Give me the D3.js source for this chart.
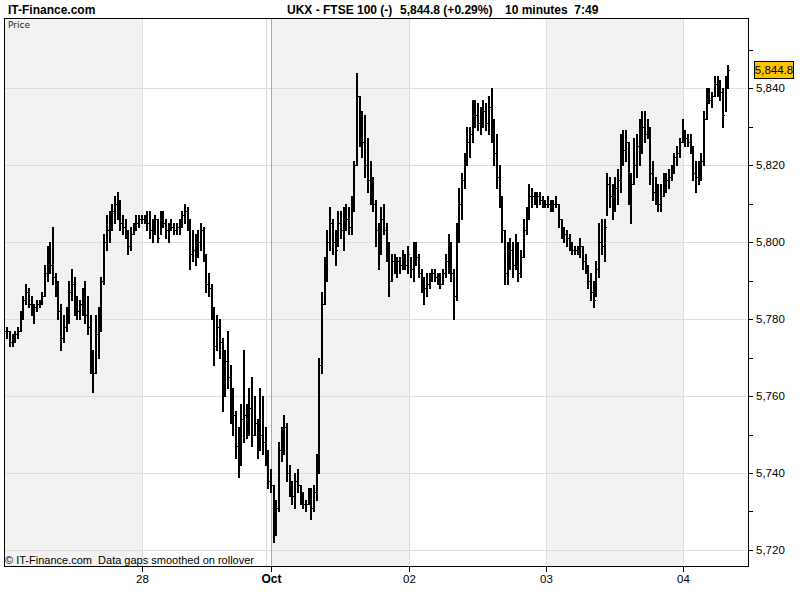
<!DOCTYPE html>
<html><head><meta charset="utf-8">
<script src="https://cdn.jsdelivr.net/npm/d3@7"></script>
<style>html,body{margin:0;padding:0;background:#fff;}svg{display:block;}</style>
</head><body>
<svg id="c" width="800" height="600"></svg>
<script>
// ---- DATA (10-minute bars, FTSE 100, 27 Sep - 04 Oct) ----
const dayLabels = ["28", "Oct", "02", "03", "04"];
const dayBold = [false, true, false, false, false];
const dayStarts = [51, 99, 150, 201, 252];          // bar index where each labelled day starts
const periodStarts = [0, 51, 99, 150, 201, 252];    // all day periods incl. first (27th)
const periodShaded = [true, false, true, false, true, false];
const yTickValues = [5720, 5740, 5760, 5780, 5800, 5820, 5840];
const yMinorValues = [5720, 5730, 5740, 5750, 5760, 5770, 5780, 5790, 5800, 5810, 5820, 5830, 5840, 5850];
const lastPrice = 5844.8;

const lows = [
 5775,5773,5773,5774,5775,5777,5780,5784,5783,5781,5779,5782,5783,5784,5786,5790,5792,5789,5786,5780,
 5772,5774,5777,5779,5785,5781,5780,5780,5781,5779,5776,5766,5761,5766,5770,5777,5789,5798,5800,5803,
 5805,5806,5803,5802,5801,5797,5798,5802,5803,5804,5805,
 5805,5803,5801,5800,5802,5800,5802,5804,5801,5800,5803,5802,5802,5802,5804,5805,5803,5793,5795,5794,
 5796,5798,5795,5787,5786,5780,5768,5772,5770,5756,5760,5762,5753,5750,5744,5739,5742,5748,5749,5750,
 5747,5750,5744,5746,5745,5742,5736,5735,
 5722,5724,5730,5743,5745,5738,5734,5732,5731,5735,5732,5731,5730,5732,5728,5730,5733,5740,5766,5784,
 5790,5798,5797,5794,5799,5801,5798,5803,5802,5802,5808,5820,5825,5822,5817,5813,5810,5808,5799,5793,
 5797,5802,5795,5786,5790,5792,5791,5792,5793,5793,5792,
 5791,5790,5794,5791,5787,5784,5786,5788,5790,5790,5789,5788,5789,5791,5792,5790,5780,5785,5800,5806,
 5814,5820,5822,5826,5830,5829,5828,5830,5829,5828,5826,5820,5814,5809,5800,5789,5789,5793,5791,5793,
 5790,5791,5796,5802,5806,5809,5810,5809,5810,5809,5809,
 5809,5808,5808,5809,5804,5801,5800,5799,5798,5797,5797,5797,5796,5793,5792,5788,5785,5783,5786,5791,
 5797,5795,5807,5809,5806,5808,5810,5813,5820,5821,5810,5805,5815,5817,5820,5823,5826,5827,5815,5811,
 5810,5808,5808,5812,5813,5814,5816,5818,5820,5822,5826,
 5825,5825,5823,5816,5813,5815,5816,5820,5832,5836,5835,5838,5838,5837,5830,5834,5840
];
const highs = [
 5778,5777,5776,5777,5778,5782,5786,5789,5788,5786,5784,5785,5785,5787,5794,5799,5800,5804,5792,5790,
 5784,5781,5783,5790,5793,5791,5786,5785,5788,5790,5786,5781,5772,5781,5783,5791,5802,5807,5808,5810,
 5812,5813,5811,5807,5806,5803,5804,5805,5807,5807,5807,
 5807,5808,5808,5806,5807,5806,5808,5808,5806,5805,5806,5805,5805,5806,5808,5810,5809,5806,5803,5802,
 5803,5805,5804,5797,5792,5789,5783,5781,5780,5775,5772,5777,5768,5762,5756,5752,5758,5772,5758,5762,
 5765,5760,5754,5762,5760,5752,5746,5741,
 5737,5733,5748,5752,5755,5753,5742,5738,5740,5741,5737,5735,5733,5736,5736,5737,5745,5770,5787,5796,
 5803,5809,5806,5803,5808,5808,5809,5810,5809,5812,5821,5844,5838,5834,5833,5827,5821,5817,5811,5805,
 5809,5810,5805,5800,5797,5797,5796,5796,5798,5797,5799,
 5796,5800,5800,5797,5793,5791,5792,5792,5793,5793,5792,5792,5793,5797,5802,5800,5793,5805,5814,5818,
 5823,5830,5830,5837,5837,5836,5835,5837,5836,5838,5840,5832,5828,5820,5812,5803,5800,5801,5800,5802,
 5800,5798,5806,5809,5815,5814,5813,5813,5813,5812,5811,
 5812,5811,5811,5812,5810,5806,5804,5803,5802,5800,5799,5799,5801,5799,5797,5794,5792,5790,5795,5805,
 5806,5806,5818,5817,5815,5817,5819,5828,5829,5829,5826,5818,5827,5828,5832,5834,5834,5832,5830,5821,
 5817,5815,5815,5818,5818,5819,5820,5823,5825,5827,5832,
 5829,5828,5828,5825,5821,5821,5823,5834,5840,5840,5839,5843,5843,5842,5840,5843,5846
];
const closes = [
 5777,5774,5775,5776,5777,5781,5785,5787,5784,5782,5783,5784,5784,5786,5792,5796,5794,5791,5788,5782,
 5775,5778,5780,5787,5789,5783,5782,5784,5786,5781,5778,5768,5766,5776,5778,5790,5800,5803,5806,5808,
 5810,5808,5805,5804,5803,5799,5802,5803,5805,5806,5806,
 5806,5805,5803,5804,5806,5801,5807,5805,5803,5804,5804,5803,5804,5805,5807,5808,5804,5797,5798,5796,
 5800,5803,5797,5789,5788,5782,5773,5778,5774,5762,5769,5765,5756,5755,5747,5748,5754,5755,5752,5757,
 5750,5753,5746,5750,5748,5745,5738,5737,
 5726,5731,5746,5748,5752,5740,5736,5734,5738,5737,5733,5732,5732,5735,5731,5735,5741,5768,5784,5792,
 5800,5805,5800,5798,5805,5803,5807,5806,5804,5809,5820,5838,5830,5826,5820,5816,5813,5810,5803,5798,
 5806,5803,5797,5790,5795,5794,5795,5794,5796,5794,5797,
 5793,5798,5796,5792,5790,5788,5789,5791,5792,5791,5790,5789,5792,5795,5796,5792,5786,5803,5810,5816,
 5821,5826,5828,5834,5833,5831,5833,5834,5831,5835,5830,5823,5817,5812,5803,5792,5795,5798,5794,5799,
 5792,5796,5803,5807,5812,5812,5811,5812,5811,5810,5810,
 5810,5809,5810,5810,5806,5803,5802,5801,5799,5798,5798,5798,5799,5795,5794,5790,5787,5785,5793,5800,
 5799,5804,5815,5812,5810,5814,5816,5825,5824,5826,5814,5815,5820,5825,5829,5830,5828,5828,5818,5813,
 5812,5810,5812,5815,5816,5817,5819,5822,5823,5826,5829,
 5827,5826,5824,5818,5817,5818,5821,5832,5837,5837,5838,5841,5840,5839,5833,5841,5844.8
];
const opens = closes.map((c, i) => i === 0 ? c : closes[i - 1]);

// ---- LAYOUT ----
const W = 800, H = 600;
const L = 4, R = 748, T = 18, B = 566;
const totalSlots = 276.2;
const svg = d3.select("#c");
const x = d3.scaleLinear().domain([-0.5, totalSlots - 0.5]).range([L + 1, R]);
const y = d3.scaleLinear().domain([5720, 5840]).range([550, 88]);
const FONT = "'Liberation Sans', Arial, sans-serif";

svg.append("rect").attr("width", W).attr("height", H).attr("fill", "#fff");

// Day shading
const bounds = periodStarts.map(s => x(s - 0.5)).concat([R]);
svg.append("g").selectAll("rect").data(periodStarts).join("rect")
  .attr("x", (d, i) => Math.round(bounds[i]))
  .attr("y", T)
  .attr("width", (d, i) => Math.round(bounds[i + 1]) - Math.round(bounds[i]))
  .attr("height", B - T)
  .attr("fill", (d, i) => periodShaded[i] ? "#f2f2f2" : "#ffffff");

// Horizontal grid
svg.append("g").selectAll("line").data(yTickValues).join("line")
  .attr("x1", L).attr("x2", R)
  .attr("y1", d => Math.round(y(d)) + 0.5).attr("y2", d => Math.round(y(d)) + 0.5)
  .attr("stroke", "#dedede").attr("stroke-width", 1);

// Vertical grid at day starts
const vg = svg.append("g");
dayStarts.forEach((s, i) => {
  const xx = Math.round(x(s - 0.5)) + 0.5;
  if (dayBold[i]) {
    vg.append("line").attr("x1", xx - 5).attr("x2", xx - 5).attr("y1", T).attr("y2", B)
      .attr("stroke", "#dedede");
    vg.append("line").attr("x1", xx).attr("x2", xx).attr("y1", T).attr("y2", B)
      .attr("stroke", "#a8a8a8");
  } else {
    vg.append("line").attr("x1", xx).attr("x2", xx).attr("y1", T).attr("y2", B)
      .attr("stroke", "#dedede");
  }
});

// OHLC bars: 2px high-low body, 1px open/close ticks
const bars = d3.range(closes.length);
const px = i => Math.round(x(i));
const py = v => Math.round(y(v));
const barG = svg.append("g").attr("shape-rendering", "crispEdges");
barG.append("path")
  .attr("d", bars.map(i => {
    const xi = px(i);
    const yh = py(highs[i]), yl = py(lows[i]);
    return `M${xi},${yh}H${xi + 2}V${yl + 1}H${xi}Z`;
  }).join(""))
  .attr("fill", "#000");
barG.append("path")
  .attr("d", bars.map(i => {
    const xi = px(i);
    const yo = py(opens[i]) + 0.5, yc = py(closes[i]) + 0.5;
    return `M${xi - 1},${yo}H${xi}M${xi + 2},${yc}H${xi + 3}`;
  }).join(""))
  .attr("fill", "none").attr("stroke", "#000").attr("stroke-width", 1);

// Frame
svg.append("rect").attr("x", L + 0.5).attr("y", T + 0.5).attr("width", R - L).attr("height", B - T)
  .attr("fill", "none").attr("stroke", "#000").attr("stroke-width", 1);

// Right axis
const ra = svg.append("g");
ra.selectAll("line").data(yMinorValues).join("line")
  .attr("x1", R).attr("x2", R + 5)
  .attr("y1", d => Math.round(y(d)) + 0.5).attr("y2", d => Math.round(y(d)) + 0.5)
  .attr("stroke", "#000");
ra.selectAll("text").data(yTickValues).join("text")
  .attr("x", R + 8).attr("y", d => y(d) + 4)
  .attr("font-family", FONT).attr("font-size", 11.5).attr("fill", "#000")
  .text(d => d3.format(",")(d));

// Bottom axis
const ba = svg.append("g");
dayStarts.forEach((s, i) => {
  const xx = Math.round(x(s - 0.5)) + 0.5;
  ba.append("line").attr("x1", xx).attr("x2", xx).attr("y1", B).attr("y2", B + 6).attr("stroke", "#000");
  ba.append("text").attr("x", xx).attr("y", B + 17).attr("text-anchor", "middle")
    .attr("font-family", FONT).attr("font-size", dayBold[i] ? 12 : 11.5)
    .attr("font-weight", dayBold[i] ? "bold" : "normal").text(dayLabels[i]);
});

// Last price box
const ly = y(lastPrice);
svg.append("rect").attr("x", 754.5).attr("y", Math.round(ly) - 8.5).attr("width", 39).attr("height", 17)
  .attr("fill", "#ffc000").attr("stroke", "#000");
svg.append("text").attr("x", 774).attr("y", Math.round(ly) + 4).attr("text-anchor", "middle")
  .attr("font-family", FONT).attr("font-size", 11.5).text(d3.format(",.1f")(lastPrice));

// Titles
svg.append("text").attr("x", 8).attr("y", 14).attr("font-family", FONT).attr("font-size", 12)
  .attr("font-weight", "bold").text("IT-Finance.com");
svg.append("text").attr("x", 287).attr("y", 14).attr("font-family", FONT).attr("font-size", 12)
  .attr("font-weight", "bold").text("UKX - FTSE 100 (-)");
svg.append("text").attr("x", 400).attr("y", 14).attr("font-family", FONT).attr("font-size", 12)
  .attr("font-weight", "bold").text("5,844.8 (+0.29%)");
svg.append("text").attr("x", 505).attr("y", 14).attr("font-family", FONT).attr("font-size", 12)
  .attr("font-weight", "bold").text("10 minutes\u00a0\u00a07:49");
svg.append("text").attr("x", 8).attr("y", 28).attr("font-family", "'DejaVu Sans', sans-serif")
  .attr("font-size", 9).attr("fill", "#222").text("Price");
svg.append("text").attr("x", 5).attr("y", 564).attr("font-family", FONT).attr("font-size", 11)
  .text("© IT-Finance.com\u00a0\u00a0Data gaps smoothed on rollover");
</script>
</body></html>
